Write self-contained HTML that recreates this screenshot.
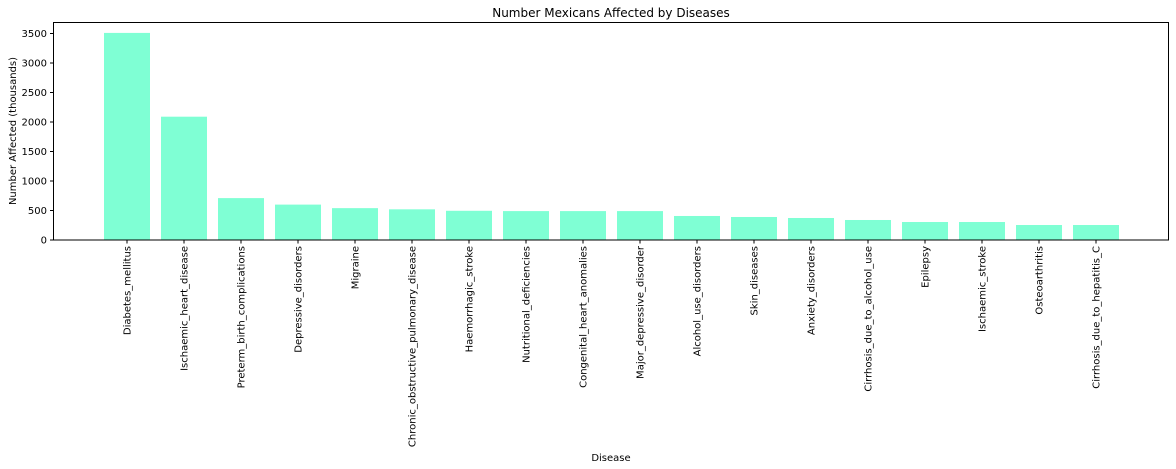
<!DOCTYPE html>
<html><head><meta charset="utf-8"><style>
body{margin:0;background:#fff;}
svg{display:block;font-family:"DejaVu Sans","Liberation Sans",sans-serif;}
</style></head><body>
<svg id="chart" width="1176" height="469">
<text x="611" y="17" font-size="12" text-anchor="middle" fill="#000">Number Mexicans Affected by Diseases</text>
<text x="611" y="461" font-size="10" text-anchor="middle" fill="#000">Disease</text>
<text transform="translate(16,131) rotate(-90)" font-size="10" text-anchor="middle" fill="#000">Number Affected (thousands)</text>
<g id="bars"></g><g id="yt"></g><g id="xt"></g>
<rect x="53.5" y="22.5" width="1115" height="217.5" fill="none" stroke="#000" stroke-width="1"/>
</svg>
<script>
const categories=["Diabetes_mellitus","Ischaemic_heart_disease","Preterm_birth_complications","Depressive_disorders","Migraine","Chronic_obstructive_pulmonary_disease","Haemorrhagic_stroke","Nutritional_deficiencies","Congenital_heart_anomalies","Major_depressive_disorder","Alcohol_use_disorders","Skin_diseases","Anxiety_disorders","Cirrhosis_due_to_alcohol_use","Epilepsy","Ischaemic_stroke","Osteoarthritis","Cirrhosis_due_to_hepatitis_C"];
const values=[3510,2090,710,600,540,520,495,490,490,490,407,390,373,339,305,305,254,254];
const yTicks=[0,500,1000,1500,2000,2500,3000,3500];
const NS="http://www.w3.org/2000/svg";
const x0=127, step=57, bw=46, y0=240, k=206.5/3500;
const xPos=i=>x0+i*step, yPos=v=>y0-v*k;
function mk(t,a){const e=document.createElementNS(NS,t);for(const n in a)e.setAttribute(n,a[n]);return e;}
const bars=document.getElementById('bars'),yt=document.getElementById('yt'),xt=document.getElementById('xt');
values.forEach((v,i)=>{
 const r=mk('rect',{x:xPos(i)-bw/2,y:yPos(v),width:bw,height:v*k,fill:'#7fffd4'});
 
 
 bars.appendChild(r);
});
yTicks.forEach(t=>{
 const y=yPos(t);
 yt.appendChild(mk('line',{x1:50,x2:53.5,y1:y,y2:y,stroke:'#000'}));
 const tx=mk('text',{x:47,y:y+3.5,'font-size':10,'text-anchor':'end',fill:'#000'});
 tx.textContent=t;
 
 
 yt.appendChild(tx);
});
categories.forEach((c,i)=>{
 const x=xPos(i);
 xt.appendChild(mk('line',{x1:x,x2:x,y1:240,y2:243.5,stroke:'#000'}));
 const tx=mk('text',{transform:`translate(${x+3.5},246) rotate(-90)`,'font-size':10,'text-anchor':'end',fill:'#000'});
 tx.textContent=c;
 
 
 xt.appendChild(tx);
});
</script>
</body></html>
